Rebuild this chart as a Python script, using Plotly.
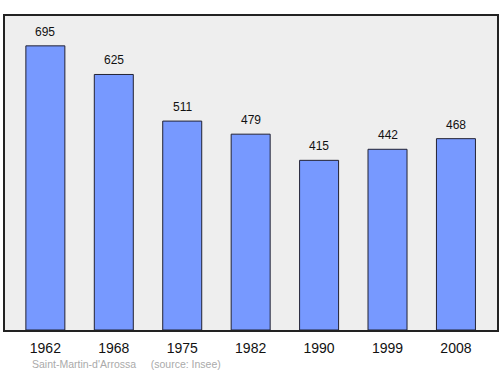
import plotly.graph_objects as go

years = ["1962", "1968", "1975", "1982", "1990", "1999", "2008"]
population = [695, 625, 511, 479, 415, 442, 468]
positions = list(range(len(years)))

fig = go.Figure()
fig.add_trace(go.Bar(
    x=positions, y=population, width=0.57,
    marker=dict(color="#7799ff", line=dict(color="#222233", width=1)),
    hoverinfo="skip",
))
for p, v in zip(positions, population):
    fig.add_annotation(x=p, y=v, text=str(v), showarrow=False,
                       yanchor="bottom", yshift=5,
                       font=dict(family="Liberation Sans, Arial", size=12, color="#111"))
fig.add_annotation(xref="paper", yref="paper", x=0.051, y=-0.108, xanchor="left", yanchor="middle",
                   text="Saint-Martin-d'Arrossa &nbsp;&nbsp;&nbsp; (source: Insee)", showarrow=False,
                   font=dict(family="Liberation Sans, Arial", size=10.5, color="#aaaaaa"))
fig.update_layout(
    width=500, height=374,
    margin=dict(l=5, r=3, t=16, b=44, autoexpand=False),
    paper_bgcolor="white", plot_bgcolor="#eeeeee",
    showlegend=False,
    font=dict(family="Liberation Sans, Arial", size=14, color="#111"),
    xaxis=dict(range=[-0.59, 6.6], showgrid=False, ticks="", zeroline=False,
               tickmode="array", tickvals=positions, ticktext=years,
               showline=True, linecolor="#222", linewidth=1.5, mirror=True,
               tickfont=dict(size=14), automargin=False, ticklabelstandoff=4),
    yaxis=dict(range=[0, 768], showgrid=False, showticklabels=False, ticks="",
               zeroline=False, showline=True, linecolor="#222", linewidth=1.5, mirror=True,
               automargin=False),
)
fig.write_html("out.html", config={"displayModeBar": False},
               post_script="document.body.style.margin='0';document.body.style.overflow='hidden';")
